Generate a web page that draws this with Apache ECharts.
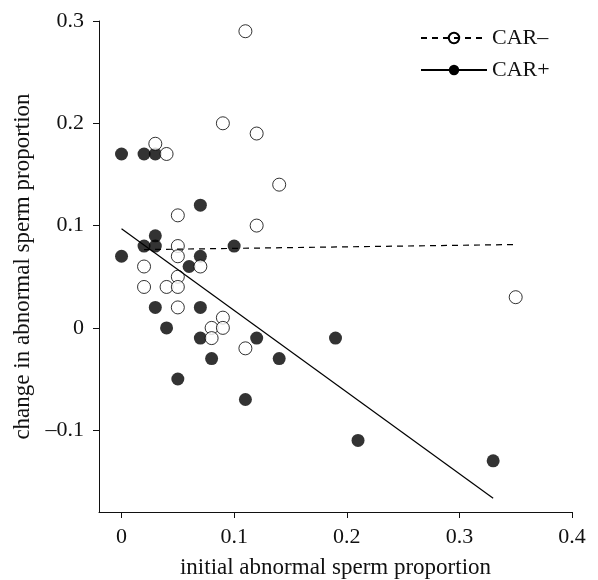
<!DOCTYPE html>
<html>
<head>
<meta charset="utf-8">
<script src="https://cdn.jsdelivr.net/npm/echarts@6/dist/echarts.min.js"></script>
<style>html,body{margin:0;padding:0;background:#fff;}#c{width:598px;height:580px;}</style>
</head>
<body>
<div id="c"></div>
<script>
// CAR– (open circles): [initial, change]
const carMinusPoints = [
  [0.11,0.29],[0.09,0.20],[0.12,0.19],[0.14,0.14],[0.03,0.18],[0.04,0.17],
  [0.05,0.11],[0.12,0.10],[0.05,0.08],[0.05,0.07],[0.02,0.06],[0.07,0.06],
  [0.05,0.05],[0.02,0.04],[0.04,0.04],[0.05,0.04],[0.05,0.02],[0.09,0.01],
  [0.08,0.00],[0.09,0.00],[0.08,-0.01],[0.11,-0.02],[0.35,0.03]
];
// CAR+ (filled circles)
const carPlusPoints = [
  [0.00,0.17],[0.02,0.17],[0.03,0.17],[0.07,0.12],[0.03,0.09],[0.02,0.08],
  [0.03,0.08],[0.10,0.08],[0.00,0.07],[0.07,0.07],[0.06,0.06],[0.03,0.02],
  [0.07,0.02],[0.04,0.00],[0.07,-0.01],[0.12,-0.01],[0.08,-0.03],[0.14,-0.03],
  [0.05,-0.05],[0.11,-0.07],[0.19,-0.01],[0.21,-0.11],[0.33,-0.13]
];
// fitted regression lines (end points)
const carMinusFit = [[0.02,0.0765],[0.35,0.0815]];
const carPlusFit = [[0.00,0.097],[0.33,-0.1665]];
const xTicks = [0,0.1,0.2,0.3,0.4];
const yTicks = [-0.1,0,0.1,0.2,0.3];
const seriesNames = ['CAR–','CAR+'];

const ink = '#000';
const font = 'Liberation Serif';
const fmt = v => {
  const r = Math.round(v*10)/10;
  if (r === 0) return '0';
  return (r < 0 ? '–' : '') + Math.abs(r).toString();
};

const chart = echarts.init(document.getElementById('c'), null, {renderer:'canvas'});
chart.setOption({
  animation:false,
  backgroundColor:'#fff',
  textStyle:{fontFamily:font},
  grid:{left:99,right:26,top:21,bottom:68,containLabel:false,outerBoundsMode:'none'},
  legend:{
    orient:'vertical', left:415, top:22,
    itemWidth:66, itemHeight:13, itemGap:10,
    textStyle:{fontFamily:font,fontSize:22,color:'#111'},
    data:seriesNames
  },
  xAxis:{
    type:'value', min:-0.02, max:0.4,
    name:'initial abnormal sperm proportion', nameLocation:'middle', nameGap:44,
    nameTextStyle:{fontFamily:font,fontSize:23,color:'#111'},
    axisLine:{show:true,onZero:false,lineStyle:{color:'#111',width:1}},
    axisTick:{show:true,length:6,customValues:xTicks,lineStyle:{color:'#111'}},
    axisLabel:{customValues:xTicks,formatter:fmt,fontFamily:font,fontSize:22,color:'#111',margin:14},
    splitLine:{show:false}
  },
  yAxis:{
    type:'value', min:-0.18, max:0.3,
    name:'change in abnormal sperm proportion', nameLocation:'middle', nameGap:60,
    nameTextStyle:{fontFamily:font,fontSize:23,color:'#111'},
    axisLine:{show:true,onZero:false,lineStyle:{color:'#111',width:1}},
    axisTick:{show:true,length:6,customValues:yTicks,lineStyle:{color:'#111'}},
    axisLabel:{customValues:yTicks,formatter:fmt,fontFamily:font,fontSize:22,color:'#111',margin:15},
    splitLine:{show:false}
  },
  series:[
    {
      name:'CAR+ points', type:'scatter', data:carPlusPoints, symbol:'circle', symbolSize:13,
      itemStyle:{color:ink}, z:2
    },
    {
      name:'CAR– points', type:'scatter', data:carMinusPoints, symbol:'circle', symbolSize:13,
      itemStyle:{color:'#fff',borderColor:ink,borderWidth:1}, z:3
    },
    {
      name:seriesNames[0], type:'line', data:carMinusFit, showSymbol:false, symbol:'circle',
      lineStyle:{color:ink,width:1.2,type:[6,5]},
      itemStyle:{color:'rgba(255,255,255,0)',borderColor:ink,borderWidth:1}, z:4
    },
    {
      name:seriesNames[1], type:'line', data:carPlusFit, showSymbol:false, symbol:'circle',
      lineStyle:{color:ink,width:1.2,type:'solid'},
      itemStyle:{color:ink}, z:4
    }
  ]
});
</script>
</body>
</html>
